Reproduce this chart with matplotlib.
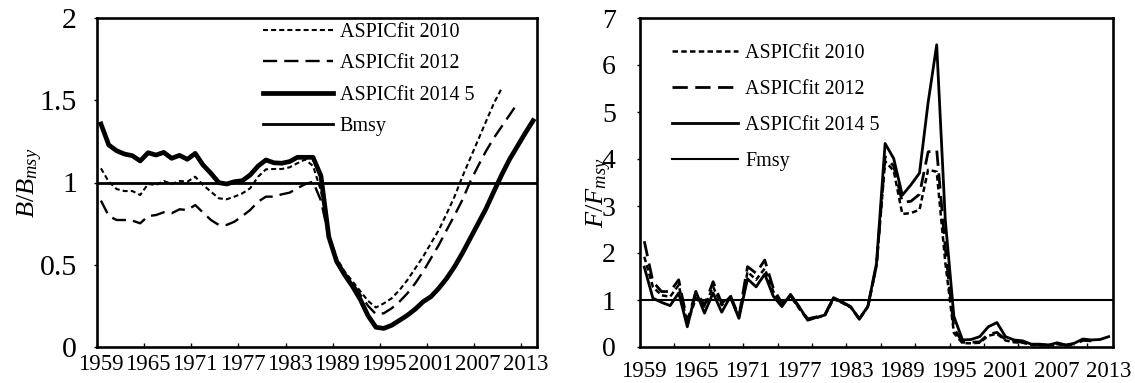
import numpy as np
import matplotlib
matplotlib.use("Agg")
import matplotlib.pyplot as plt
from matplotlib.ticker import FixedLocator

plt.rcParams['font.family'] = ['Liberation Serif', 'DejaVu Serif']
plt.rcParams['mathtext.fontset'] = 'custom'
plt.rcParams['mathtext.rm'] = 'Liberation Serif'
plt.rcParams['mathtext.it'] = 'Liberation Serif:italic'

# ---- B/Bmsy (left panel) ----
b_years_2010 = list(range(1959, 2011))
b_2010 = [1.086, 1.005, 0.960, 0.948, 0.948, 0.924, 0.991, 0.985, 1.009, 0.991,
          1.009, 1.005, 1.035, 0.985, 0.944, 0.904, 0.898, 0.914, 0.934, 0.965,
          1.035, 1.080, 1.082, 1.082, 1.092, 1.117, 1.140, 1.100, 0.950, 0.680,
          0.540, 0.460, 0.400, 0.340, 0.280, 0.240, 0.265, 0.296, 0.346, 0.407,
          0.478, 0.549, 0.630, 0.711, 0.810, 0.914, 1.035, 1.147, 1.258, 1.370,
          1.480, 1.572]

b_years_2012 = list(range(1959, 2013))
b_2012 = [0.890, 0.796, 0.772, 0.772, 0.768, 0.752, 0.796, 0.802, 0.819, 0.813,
          0.837, 0.833, 0.863, 0.817, 0.772, 0.742, 0.742, 0.762, 0.796, 0.833,
          0.883, 0.914, 0.914, 0.928, 0.938, 0.965, 0.990, 1.005, 0.890, 0.670,
          0.530, 0.450, 0.390, 0.320, 0.250, 0.200, 0.205, 0.235, 0.276, 0.326,
          0.387, 0.458, 0.539, 0.620, 0.711, 0.800, 0.894, 1.005, 1.100, 1.190,
          1.270, 1.340, 1.410, 1.480]

b_years_2014 = list(range(1959, 2015))
b_2014 = [1.356, 1.228, 1.193, 1.173, 1.163, 1.131, 1.181, 1.167, 1.183, 1.147,
          1.165, 1.141, 1.177, 1.106, 1.056, 0.999, 0.991, 1.005, 1.011, 1.046,
          1.100, 1.137, 1.120, 1.117, 1.127, 1.153, 1.153, 1.153, 1.040, 0.670,
          0.520, 0.440, 0.370, 0.290, 0.190, 0.120, 0.113, 0.132, 0.162, 0.193,
          0.230, 0.275, 0.306, 0.357, 0.417, 0.488, 0.570, 0.660, 0.750, 0.840,
          0.944, 1.046, 1.140, 1.220, 1.300, 1.376]
bmsy = 1.0

# ---- F/Fmsy (right panel) ----
f_years_2010 = list(range(1959, 2010))
f_2010 = [1.92, 1.28, 1.10, 1.07, 1.32, 0.50, 1.04, 0.86, 1.28, 0.89,
          1.07, 0.62, 1.60, 1.43, 1.67, 1.18, 0.90, 1.08, 0.82, 0.58,
          0.62, 0.67, 1.02, 0.94, 0.84, 0.60, 0.85, 1.72, 3.95, 3.75,
          2.83, 2.85, 2.92, 3.77, 3.73, 1.80, 0.30, 0.08, 0.08, 0.09,
          0.24, 0.28, 0.14, 0.10, 0.09, 0.05, 0.04, 0.03, 0.06, 0.03,
          0.05]

f_years_2012 = list(range(1959, 2012))
f_2012 = [2.25, 1.39, 1.18, 1.18, 1.43, 0.54, 1.18, 0.89, 1.39, 0.93,
          1.10, 0.65, 1.71, 1.57, 1.85, 1.25, 0.93, 1.10, 0.84, 0.60,
          0.64, 0.69, 1.04, 0.95, 0.85, 0.60, 0.86, 1.75, 4.05, 3.85,
          3.08, 3.10, 3.25, 4.15, 4.20, 2.10, 0.40, 0.10, 0.10, 0.11,
          0.27, 0.31, 0.16, 0.12, 0.10, 0.06, 0.05, 0.04, 0.08, 0.04,
          0.06, 0.14, 0.13]

f_years_2014 = list(range(1959, 2014))
f_2014 = [1.70, 1.04, 0.95, 0.88, 1.15, 0.43, 1.18, 0.72, 1.15, 0.74,
          1.07, 0.61, 1.45, 1.28, 1.55, 1.08, 0.86, 1.12, 0.86, 0.57,
          0.63, 0.68, 1.05, 0.96, 0.86, 0.59, 0.87, 1.78, 4.33, 4.01,
          3.23, 3.45, 3.70, 5.20, 6.43, 2.70, 0.65, 0.15, 0.16, 0.22,
          0.43, 0.52, 0.22, 0.15, 0.13, 0.06, 0.06, 0.04, 0.09, 0.04,
          0.08, 0.17, 0.15, 0.16, 0.22]
fmsy = 1.0

label_years = list(range(1959, 2014, 6))

fig = plt.figure(figsize=(11.35, 3.83), dpi=100)
ax1 = fig.add_axes([97/1135, 36/383, 440/1135, 329/383])
ax2 = fig.add_axes([640/1135, 36/383, 473/1135, 329/383])

# left panel
ax1.plot(b_years_2010, b_2010, color='black', lw=1.5, dashes=(2.4, 1.5), label='ASPICfit 2010')
ax1.plot(b_years_2012, b_2012, color='black', lw=1.7, dashes=(6, 3), label='ASPICfit 2012')
ax1.plot(b_years_2014, b_2014, color='black', lw=3.4, label='ASPICfit 2014 5')
ax1.axhline(bmsy, color='black', lw=2.0, label='Bmsy')
ax1.set_xlim(1958.5, 2014.5)
ax1.set_ylim(0, 2)
ax1.set_yticks([0, 0.5, 1, 1.5, 2])
ax1.set_yticklabels(['0', '0.5', '1', '1.5', '2'])
ax1.xaxis.set_minor_locator(FixedLocator(np.arange(1964.5, 2014, 6)))
ax1.set_ylabel(r'$B/B_{msy}$', fontsize=19)
ax1.yaxis.set_label_coords(-0.118, 0.5)
ax1.legend(loc='upper left', bbox_to_anchor=(0.377, 0.985), frameon=False,
           fontsize=14.4, handlelength=3.5, handletextpad=0.35,
           labelspacing=0.62, borderpad=0, borderaxespad=0)

# right panel
ax2.plot(f_years_2010, f_2010, color='black', lw=1.8, dashes=(2.2, 1.3), label='ASPICfit 2010')
ax2.plot(f_years_2012, f_2012, color='black', lw=2.0, dashes=(5.5, 2.7), label='ASPICfit 2012')
ax2.plot(f_years_2014, f_2014, color='black', lw=2.0, label='ASPICfit 2014 5')
ax2.axhline(fmsy, color='black', lw=1.5, label='Fmsy')
ax2.set_xlim(1958.5, 2013.5)
ax2.set_ylim(0, 7)
ax2.set_yticks(range(0, 8))
ax2.xaxis.set_minor_locator(FixedLocator(np.arange(1962.5, 2013, 4)))
ax2.set_ylabel(r'$F/F_{msy}$', fontsize=19)
ax2.yaxis.set_label_coords(-0.055, 0.47)
ax2.legend(loc='upper left', bbox_to_anchor=(0.068, 0.92), frameon=False,
           fontsize=14.4, handlelength=3.3, handletextpad=0.35,
           labelspacing=0.85, borderpad=0, borderaxespad=0)

for ax in (ax1, ax2):
    ax.set_xticks(label_years)
    ax.set_xticklabels([str(y) for y in label_years])
    for s in ax.spines.values():
        s.set_linewidth(1.9)
    ax.tick_params(axis='x', which='major', length=0, labelsize=16.5)
    ax.tick_params(axis='x', which='minor', direction='in', length=3.2, width=1.0)
    ax.tick_params(axis='y', which='major', direction='out', length=2.5, width=1.0)

ax1.tick_params(axis='x', which='major', pad=5)
ax2.tick_params(axis='x', which='major', pad=10)
ax1.tick_params(axis='y', labelsize=21.5, pad=12)
ax2.tick_params(axis='y', labelsize=20, pad=15)

fig.savefig('out.png', dpi=100)
